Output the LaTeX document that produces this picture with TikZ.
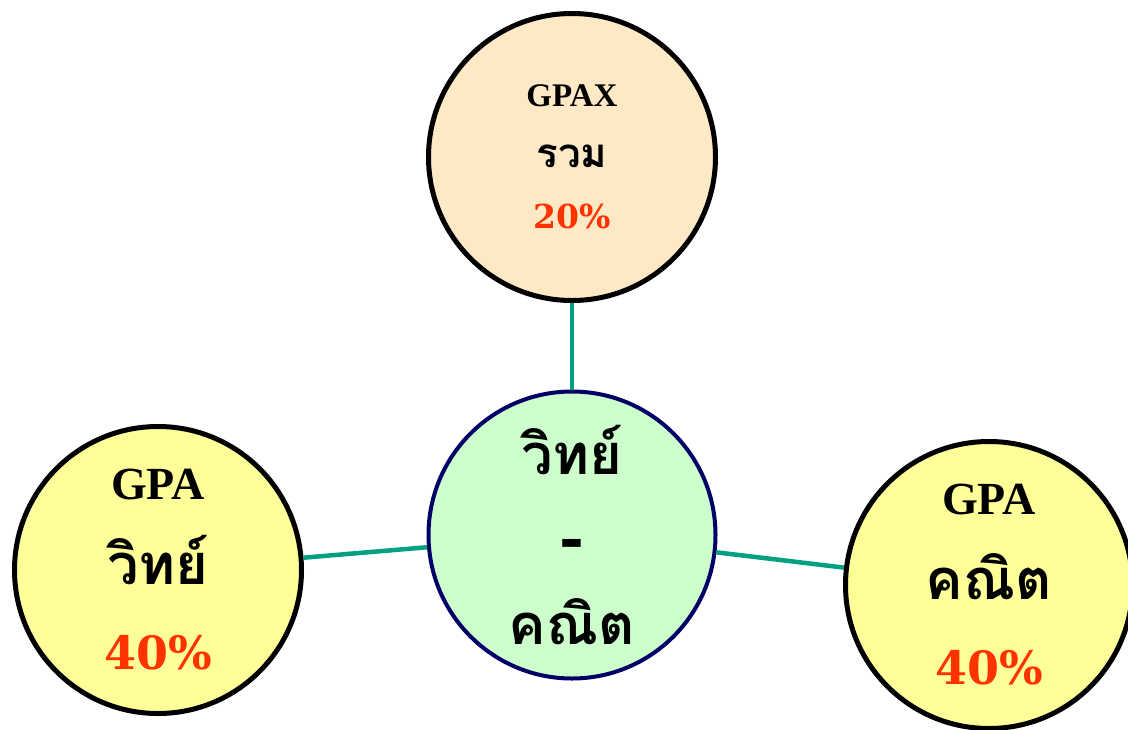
\documentclass[tikz,border=0pt]{standalone}
\usepackage{fontspec}
\setmainfont{Liberation Serif}
\newfontfamily\thaifont[Script=Thai,Scale=1.22]{Loma}
\newfontfamily\numfont{DejaVu Serif}
\definecolor{peach}{RGB}{253,233,198}
\definecolor{lemon}{RGB}{255,255,153}
\definecolor{mint}{RGB}{204,255,204}
\definecolor{navyline}{RGB}{0,0,102}
\definecolor{teal}{RGB}{0,160,128}
\definecolor{pctred}{RGB}{255,51,0}

\begin{document}
\begin{tikzpicture}[x=1pt,y=-1pt,
  bubble/.style={circle,draw=black,line width=5pt,minimum size=287pt,inner sep=0pt,align=center},
  big/.style={font=\bfseries\fontsize{46}{85}\selectfont},
  small/.style={font=\bfseries\fontsize{33}{61}\selectfont},
  link/.style={draw=teal,line width=4.5pt}]

\useasboundingbox (0,0) rectangle (1128,729);

%% circles
\node[bubble,small,fill=peach] (gpax) at (572,157)
  {GPAX\\ {\thaifont รวม}\\ {\numfont\color{pctred}20\%}};
\node[bubble,big,fill=mint,draw=navyline,line width=4pt] (core) at (572,535)
  {{\thaifont วิทย์}\\ {\numfont\fontsize{60}{85}\selectfont -}\\ {\thaifont คณิต}};
\node[bubble,big,fill=lemon] (sci) at (158,570)
  {GPA\\ {\thaifont วิทย์}\\ {\numfont\color{pctred}40\%}};
\node[bubble,big,fill=lemon] (math) at (989,585)
  {GPA\\ {\thaifont คณิต}\\ {\numfont\color{pctred}40\%}};

%% links
\draw[link] (gpax) -- (core);
\draw[link] (sci) -- (core);
\draw[link] (core) -- (math);

\end{tikzpicture}
\end{document}
